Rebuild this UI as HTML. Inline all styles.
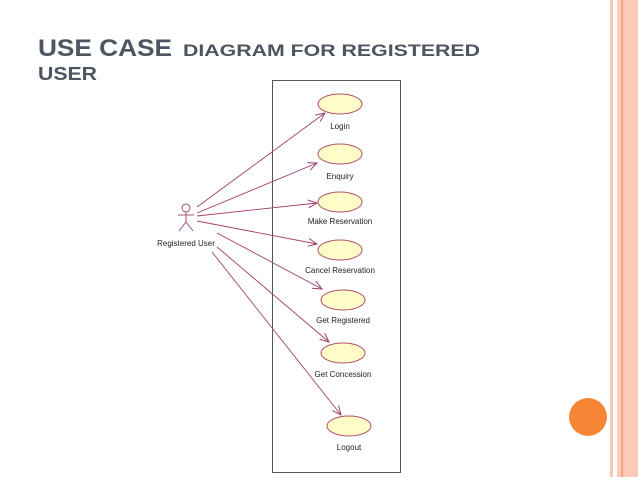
<!DOCTYPE html>
<html><head><style>
html,body{margin:0;padding:0;background:#fff;width:638px;height:479px;overflow:hidden}
svg{display:block}
</style></head><body>
<svg width="638" height="479" viewBox="0 0 638 479" xmlns="http://www.w3.org/2000/svg" font-family="Liberation Sans, sans-serif">
<defs><marker id="a" markerWidth="10" markerHeight="10" refX="9" refY="5" orient="auto" markerUnits="userSpaceOnUse"><path d="M0,1 L9,5 L0,9" fill="none" stroke="#a0406a" stroke-width="1"/></marker></defs>
<rect x="610" y="0" width="3" height="477" fill="#fcc8b4"/>
<rect x="617" y="0" width="21" height="477" fill="#fdcab8"/>
<rect x="621.5" y="0" width="1.2" height="477" fill="#f08a5a"/>
<circle cx="588" cy="417" r="19" fill="#f58535"/>
<g fill="#4d5560" font-weight="bold">
<text x="38" y="56" font-size="24" textLength="134" lengthAdjust="spacingAndGlyphs">USE CASE</text>
<text x="183" y="56" font-size="17" textLength="297" lengthAdjust="spacingAndGlyphs">DIAGRAM FOR REGISTERED</text>
<text x="38" y="80" font-size="18" textLength="59" lengthAdjust="spacingAndGlyphs">USER</text>
</g>
<rect x="272.5" y="80.5" width="128" height="392" fill="none" stroke="#555" stroke-width="1"/>
<g fill="#fffcc8" stroke="#b0506a" stroke-width="1">
<ellipse cx="340" cy="104" rx="22" ry="10"/>
<ellipse cx="340" cy="154" rx="22" ry="10"/>
<ellipse cx="340" cy="202" rx="22" ry="10"/>
<ellipse cx="340" cy="250" rx="22" ry="10"/>
<ellipse cx="343" cy="300" rx="22" ry="10"/>
<ellipse cx="343" cy="353" rx="22" ry="10"/>
<ellipse cx="349" cy="426" rx="22" ry="10"/>
</g>
<g fill="#222" font-size="8" text-anchor="middle">
<text x="340" y="129">Login</text>
<text x="340" y="179">Enquiry</text>
<text x="340" y="224">Make Reservation</text>
<text x="340" y="273">Cancel Reservation</text>
<text x="343" y="323">Get Registered</text>
<text x="343" y="377">Get Concession</text>
<text x="349" y="450">Logout</text>
<text x="186" y="246">Registered User</text>
</g>
<g stroke="#a0406a" stroke-width="0.9" fill="none">
<circle cx="186" cy="208" r="4"/>
<line x1="186" y1="212" x2="186" y2="222"/>
<line x1="178" y1="215" x2="194" y2="215"/>
<line x1="186" y1="222" x2="179" y2="231"/>
<line x1="186" y1="222" x2="193" y2="231"/>
<g marker-end="url(#a)">
<line x1="197" y1="207" x2="325" y2="113"/>
<line x1="197" y1="213" x2="317" y2="163"/>
<line x1="197" y1="216" x2="317" y2="203"/>
<line x1="197" y1="221" x2="317" y2="244"/>
<line x1="217" y1="233" x2="322" y2="289"/>
<line x1="217" y1="247" x2="329" y2="342"/>
<line x1="212" y1="252" x2="341" y2="415"/>
</g>
</g>
</svg>
</body></html>
